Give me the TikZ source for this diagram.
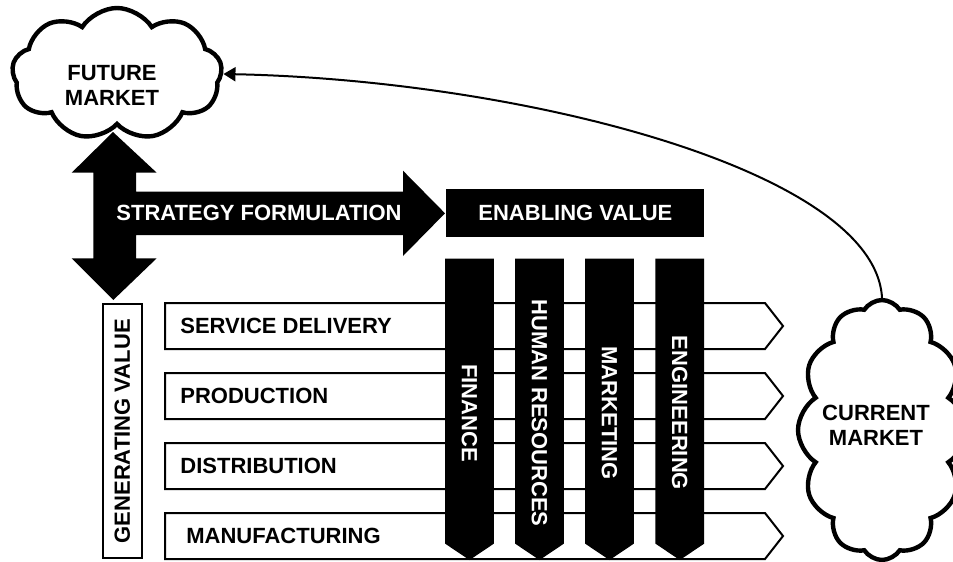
\documentclass[tikz,border=0pt]{standalone}
\usepackage{fontspec}
\setmainfont{Liberation Sans}
\usetikzlibrary{shapes.symbols,arrows.meta}
\begin{document}
\begin{tikzpicture}[x=0.5pt,y=-0.5pt,
  lbl/.style={font=\fontsize{11}{12.5}\selectfont\bfseries, inner sep=0pt},
  wlbl/.style={lbl, text=white},
  cloudshape/.style={cloud, draw, line width=2.2pt, fill=white, cloud puffs=9, cloud puff arc=115, inner sep=0pt},
  procbar/.style={draw, line width=1pt, fill=white, line join=miter},
  enbar/.style={fill=black, draw=black, line width=0.6pt},
  conn/.style={line width=1pt, -{Triangle[length=6pt,width=7pt]}},
]
\useasboundingbox (0,0) rectangle (953,562);

% future market cloud
\node[cloudshape, minimum width=105pt, minimum height=66pt] (fut) at (117,74) {};
\node[lbl, align=center] (futt) at (112,85) {FUTURE\\MARKET};

% current market cloud
\node[cloudshape, cloud puffs=12, minimum width=84pt, minimum height=130pt] (cur) at (882,430) {};
\node[lbl, align=center] (curt) at (876,425) {CURRENT\\MARKET};

% strategy formulation arrow
\fill[black] (113,132) -- (156.7,172.7) -- (136,172.7) -- (136,191.7) -- (403,191.7)
  -- (403,170.7) -- (445,213.3) -- (403,256) -- (403,235) -- (136,235) -- (136,258.3)
  -- (156.7,258.3) -- (113.3,300) -- (71.7,258.3) -- (93.3,258.3) -- (93.3,172.7)
  -- (71.7,172.7) -- cycle;
\node[wlbl] (sf) at (259,213) {STRATEGY FORMULATION};

% enabling value box
\node[fill=black, minimum width=129pt, minimum height=24pt, inner sep=0pt, anchor=north west] (ev) at (446,189) {};
\node[wlbl] (evt) at (ev.center) {ENABLING VALUE};

% generating value box
\node[draw, line width=1pt, fill=white, minimum width=19.5pt, minimum height=127pt, inner sep=0pt, anchor=north west] (gv) at (101.7,303.3) {};
\node[lbl, rotate=90] (gvt) at (gv.center) {GENERATING VALUE};

% process bars
\foreach \y/\t/\xo [count=\i] in {303/SERVICE DELIVERY/180, 373/PRODUCTION/180, 443/DISTRIBUTION/180, 513/MANUFACTURING/186}{
  \draw[procbar] (165,\y) -- (765,\y) -- (783,\y+23) -- (765,\y+46) -- (165,\y+46) -- cycle;
  \node[lbl, anchor=west] (p\i) at (\xo,\y+23) {\t};
}

% enabling bars
\foreach \x/\t [count=\i] in {445.7/FINANCE, 515.7/HUMAN RESOURCES, 585.7/MARKETING, 656/ENGINEERING}{
  \filldraw[enbar] (\x,259.3) -- (\x+47.6,259.3) -- (\x+47.6,543.3) -- (\x+23.8,559.3) -- (\x,543.3) -- cycle;
  \node[wlbl, rotate=-90] (e\i) at (\x+23.8,413) {\t};
}

% connector
\draw[conn] (cur.north) .. controls (875,170) and (520,80) .. (fut.east);
\end{tikzpicture}
\end{document}
